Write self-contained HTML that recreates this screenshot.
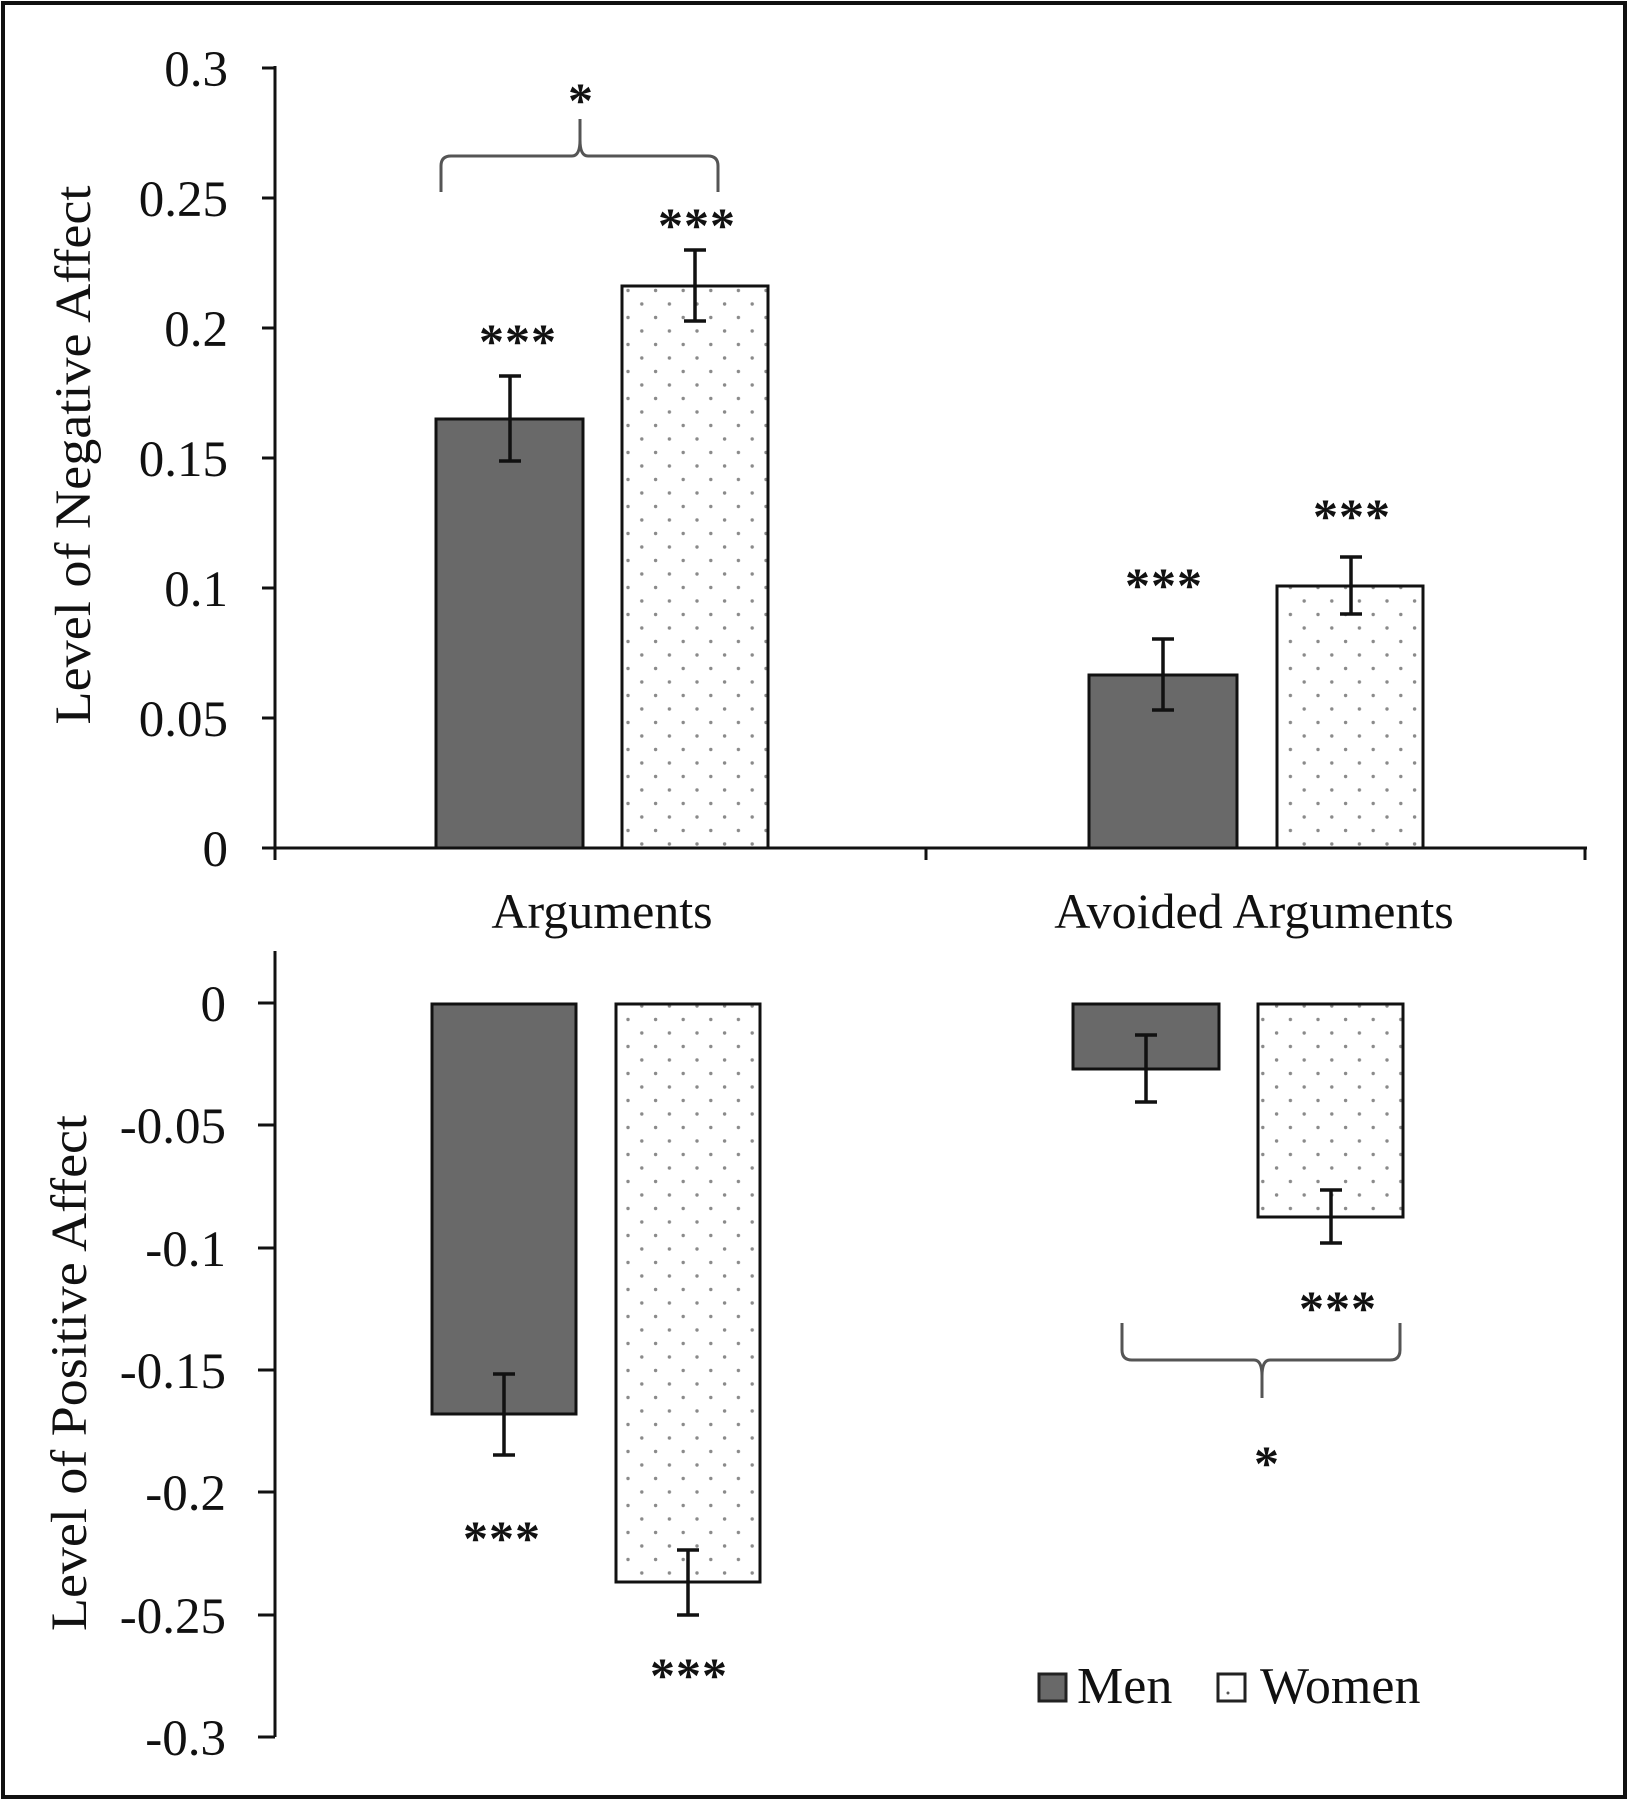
<!DOCTYPE html>
<html><head><meta charset="utf-8"><style>
html,body{margin:0;padding:0;background:#fff;}
svg{display:block;}
text{font-family:"Liberation Serif",serif;fill:#111;}
.st{font-weight:bold;}
</style></head><body>
<svg width="1628" height="1800" viewBox="0 0 1628 1800" xmlns="http://www.w3.org/2000/svg">
<defs>
<pattern id="dots" x="0" y="0" width="27.6" height="27" patternUnits="userSpaceOnUse">
<circle cx="7" cy="7" r="1.7" fill="#8a8a8a"/>
<circle cx="20.8" cy="20.5" r="1.7" fill="#8a8a8a"/>
</pattern>
</defs>
<rect x="3" y="3" width="1622" height="1794" fill="#fff" stroke="#111" stroke-width="4"/>

<g stroke="#111" stroke-width="3" fill="none">
<line x1="275" y1="66" x2="275" y2="860"/>
<line x1="275" y1="848" x2="1587" y2="848"/>
<line x1="926" y1="848" x2="926" y2="860"/>
<line x1="1585" y1="848" x2="1585" y2="860"/>
<line x1="262" y1="68" x2="275" y2="68"/>
<line x1="262" y1="198" x2="275" y2="198"/>
<line x1="262" y1="328" x2="275" y2="328"/>
<line x1="262" y1="458" x2="275" y2="458"/>
<line x1="262" y1="588" x2="275" y2="588"/>
<line x1="262" y1="718" x2="275" y2="718"/>
<line x1="262" y1="848" x2="275" y2="848"/>
</g>
<g font-size="51" text-anchor="end">
<text x="228" y="86">0.3</text>
<text x="228" y="216">0.25</text>
<text x="228" y="346">0.2</text>
<text x="228" y="476">0.15</text>
<text x="228" y="606">0.1</text>
<text x="228" y="736">0.05</text>
<text x="228" y="866">0</text>
</g>
<text transform="translate(90,455) rotate(-90)" font-size="51" text-anchor="middle" textLength="539" lengthAdjust="spacingAndGlyphs">Level of Negative Affect</text>

<g stroke="#111" stroke-width="3">
<rect x="436" y="419" width="147" height="429" fill="#696969"/>
<rect x="622" y="286" width="146" height="562" fill="url(#dots)"/>
<rect x="1089" y="675" width="148" height="173" fill="#696969"/>
<rect x="1277" y="586" width="146" height="262" fill="url(#dots)"/>
</g>
<g stroke="#111" stroke-width="3.5">
<line x1="510" y1="376" x2="510" y2="461"/><line x1="499" y1="376" x2="521" y2="376"/><line x1="499" y1="461" x2="521" y2="461"/>
<line x1="695" y1="250" x2="695" y2="321"/><line x1="684" y1="250" x2="706" y2="250"/><line x1="684" y1="321" x2="706" y2="321"/>
<line x1="1163" y1="639" x2="1163" y2="710"/><line x1="1152" y1="639" x2="1174" y2="639"/><line x1="1152" y1="710" x2="1174" y2="710"/>
<line x1="1351" y1="557" x2="1351" y2="614"/><line x1="1340" y1="557" x2="1362" y2="557"/><line x1="1340" y1="614" x2="1362" y2="614"/>
</g>
<g font-size="50" text-anchor="middle" letter-spacing="1" class="st">
<text x="518" y="358">***</text>
<text x="697" y="242">***</text>
<text x="1164" y="602">***</text>
<text x="1352" y="533">***</text>
<text x="581" y="117">*</text>
</g>
<path d="M441,192 L441,166 Q441,156 451,156 L572,156 Q580,156 580,140 L580,119 M580,140 Q580,156 588,156 L708,156 Q718,156 718,166 L718,192" fill="none" stroke="#555" stroke-width="3"/>

<text x="602" y="928" font-size="50" text-anchor="middle">Arguments</text>
<text x="1254" y="928" font-size="50" text-anchor="middle">Avoided Arguments</text>

<g stroke="#111" stroke-width="3" fill="none">
<line x1="275" y1="951" x2="275" y2="1737"/>
<line x1="258" y1="1003" x2="275" y2="1003"/>
<line x1="258" y1="1125" x2="275" y2="1125"/>
<line x1="258" y1="1248" x2="275" y2="1248"/>
<line x1="258" y1="1370" x2="275" y2="1370"/>
<line x1="258" y1="1492" x2="275" y2="1492"/>
<line x1="258" y1="1615" x2="275" y2="1615"/>
<line x1="258" y1="1737" x2="275" y2="1737"/>
</g>
<g font-size="51" text-anchor="end">
<text x="226" y="1021">0</text>
<text x="226" y="1143">-0.05</text>
<text x="226" y="1266">-0.1</text>
<text x="226" y="1388">-0.15</text>
<text x="226" y="1510">-0.2</text>
<text x="226" y="1633">-0.25</text>
<text x="226" y="1755">-0.3</text>
</g>
<text transform="translate(86,1373) rotate(-90)" font-size="51" text-anchor="middle" textLength="516" lengthAdjust="spacingAndGlyphs">Level of Positive Affect</text>

<g stroke="#111" stroke-width="3">
<rect x="432" y="1004" width="144" height="410" fill="#696969"/>
<rect x="616" y="1004" width="144" height="578" fill="url(#dots)"/>
<rect x="1073" y="1004" width="146" height="65" fill="#696969"/>
<rect x="1258" y="1004" width="145" height="213" fill="url(#dots)"/>
</g>
<g stroke="#111" stroke-width="3.5">
<line x1="504" y1="1374" x2="504" y2="1455"/><line x1="493" y1="1374" x2="515" y2="1374"/><line x1="493" y1="1455" x2="515" y2="1455"/>
<line x1="688" y1="1550" x2="688" y2="1615"/><line x1="677" y1="1550" x2="699" y2="1550"/><line x1="677" y1="1615" x2="699" y2="1615"/>
<line x1="1146" y1="1035" x2="1146" y2="1102"/><line x1="1135" y1="1035" x2="1157" y2="1035"/><line x1="1135" y1="1102" x2="1157" y2="1102"/>
<line x1="1331" y1="1190" x2="1331" y2="1243"/><line x1="1320" y1="1190" x2="1342" y2="1190"/><line x1="1320" y1="1243" x2="1342" y2="1243"/>
</g>
<g font-size="50" text-anchor="middle" letter-spacing="1" class="st">
<text x="502" y="1555">***</text>
<text x="689" y="1692">***</text>
<text x="1338" y="1325">***</text>
<text x="1267" y="1480">*</text>
</g>
<path d="M1122,1323 L1122,1350 Q1122,1360 1132,1360 L1254,1360 Q1262,1360 1262,1376 L1262,1398 M1262,1376 Q1262,1360 1270,1360 L1390,1360 Q1400,1360 1400,1350 L1400,1323" fill="none" stroke="#555" stroke-width="3"/>

<rect x="1039" y="1674" width="27" height="27" fill="#696969" stroke="#222" stroke-width="3"/>
<text x="1077" y="1703" font-size="52">Men</text>
<rect x="1218" y="1674" width="27" height="27" fill="#fff" stroke="#222" stroke-width="3"/>
<circle cx="1228" cy="1693" r="1.5" fill="#555"/>
<text x="1260" y="1703" font-size="52">Women</text>
</svg>
</body></html>
